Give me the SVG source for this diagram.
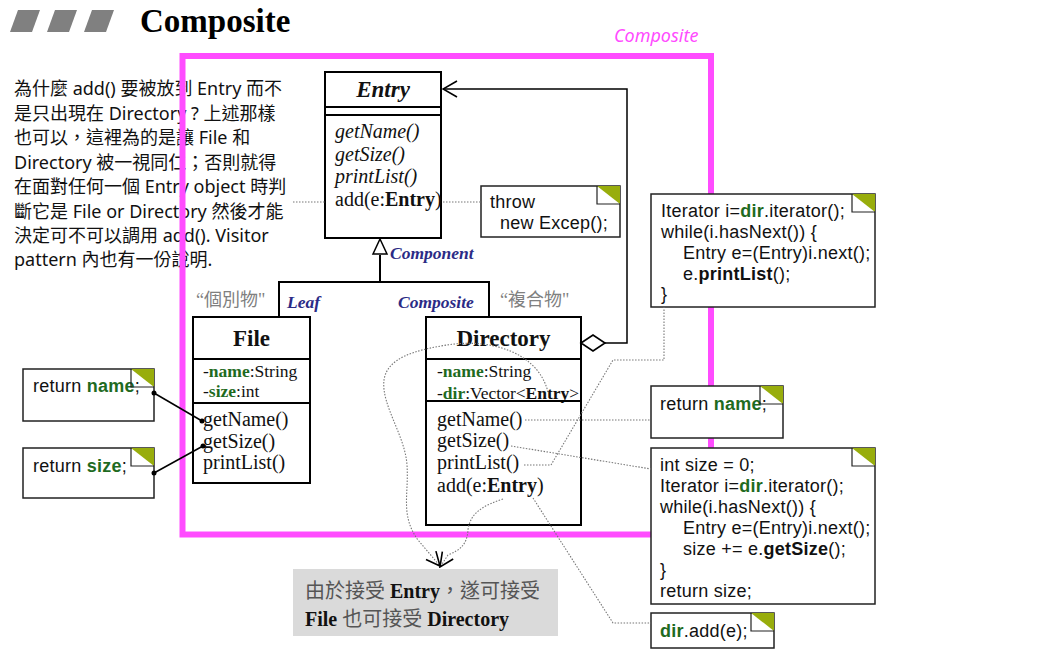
<svg xmlns="http://www.w3.org/2000/svg" xmlns:xlink="http://www.w3.org/1999/xlink" width="1047" height="653" viewBox="0 0 1047 653">
<style>
.box{fill:#fff;stroke:#000;stroke-width:2}
.ln{fill:none;stroke:#000;stroke-width:2}
.note{fill:#fff;stroke:#222;stroke-width:1.5}
.uml{font-family:"Liberation Serif","Noto Sans CJK TC",serif;font-size:20px;fill:#111}
.hd{font-family:"Liberation Serif",serif;font-size:23px;font-weight:bold;fill:#111}
.attr{font-family:"Liberation Serif",serif;font-size:17.5px;fill:#111}
.code{font-family:"Liberation Sans",Arial,sans-serif;font-size:18px;letter-spacing:0.25px;fill:#111}
.gr{fill:#1f6b1f;font-weight:bold}
.b{font-weight:bold}
.lab{font-family:"Liberation Serif",serif;font-size:17.5px;font-weight:bold;font-style:italic;fill:#2b2b86}
.cq{font-family:"Liberation Serif","Noto Sans CJK TC",serif;font-size:18px;fill:#808080}
.dot{fill:none;stroke:#777;stroke-width:1.1;stroke-dasharray:1.5 1.5}
.solid{fill:none;stroke:#000;stroke-width:1.5}
</style>
<defs>
<g id="fold">
<polygon points="-23,0 0,0 0,18" fill="#98ad0c"/>
<polyline points="-23,0 -23,18 0,18" fill="none" stroke="#222" stroke-width="1.2"/>
</g>
<marker id="open" viewBox="0 0 16 16" refX="15" refY="8" markerWidth="16" markerHeight="16" markerUnits="userSpaceOnUse" orient="auto">
<path d="M1,1.5 L15,8 L1,14.5" fill="none" stroke="#000" stroke-width="1.6"/>
</marker>
<marker id="bigopen" viewBox="0 0 16 18" refX="15" refY="9" markerWidth="16" markerHeight="18" markerUnits="userSpaceOnUse" orient="auto">
<path d="M1,1 L15,9 L1,17" fill="none" stroke="#000" stroke-width="1.6"/>
</marker>
</defs>
<rect width="1047" height="653" fill="#fff"/>

<g id="title">
<polygon points="18,10 40,10 32,32 10,32" fill="#808080"/>
<polygon points="55,10 77,10 69,32 47,32" fill="#808080"/>
<polygon points="92,10 114,10 106,32 84,32" fill="#808080"/>
<text x="140" y="32" font-family="Liberation Serif,serif" font-size="33" font-weight="bold" fill="#000">Composite</text>
</g>

<g id="explanation" font-family="Noto Sans, Noto Sans CJK TC, sans-serif" font-size="18" fill="#111">
<text x="14" y="95">為什麼 add() 要被放到 Entry 而不</text>
<text x="14" y="119.5">是只出現在 Directory ? 上述那樣</text>
<text x="14" y="144">也可以，這裡為的是讓 File 和</text>
<text x="14" y="168.5">Directory 被一視同仁；否則就得</text>
<text x="14" y="193">在面對任何一個 Entry object 時判</text>
<text x="14" y="217.5">斷它是 File or Directory 然後才能</text>
<text x="14" y="242">決定可不可以調用 add(). Visitor</text>
<text x="14" y="266">pattern 內也有一份說明.</text>
</g>

<g id="composite-frame">
<rect x="182.5" y="56" width="528.5" height="478.5" fill="none" stroke="#ff4cff" stroke-width="6"/>
<text x="614" y="42" font-family="Noto Sans, sans-serif" font-size="18" font-style="italic" fill="#ff4cff">Composite</text>
</g>

<g id="entry">
<rect class="box" x="325" y="72" width="116" height="166"/>
<line class="ln" x1="325" y1="107" x2="441" y2="107"/>
<line class="ln" x1="325" y1="115" x2="441" y2="115"/>
<text class="hd" x="383" y="97" text-anchor="middle" font-style="italic">Entry</text>
<text class="uml" x="335" y="138" font-style="italic">getName()</text>
<text class="uml" x="335" y="161" font-style="italic">getSize()</text>
<text class="uml" x="335" y="183" font-style="italic">printList()</text>
<text class="uml" x="335" y="206">add(e:<tspan class="b">Entry</tspan>)</text>
</g>

<g id="file">
<rect class="box" x="193" y="317" width="117" height="166"/>
<line class="ln" x1="193" y1="359" x2="310" y2="359"/>
<line class="ln" x1="193" y1="403" x2="310" y2="403"/>
<text class="hd" x="251.5" y="346" text-anchor="middle">File</text>
<text class="attr" x="203" y="377">-<tspan class="gr">name</tspan>:String</text>
<text class="attr" x="203" y="397">-<tspan class="gr">size</tspan>:int</text>
<text class="uml" x="203" y="426">getName()</text>
<text class="uml" x="203" y="448">getSize()</text>
<text class="uml" x="203" y="469">printList()</text>
</g>

<g id="directory">
<rect class="box" x="426" y="317" width="155" height="208"/>
<line class="ln" x1="426" y1="359" x2="581" y2="359"/>
<text class="attr" x="437" y="377">-<tspan class="gr">name</tspan>:String</text>
<text class="attr" x="437" y="399">-<tspan class="gr">dir</tspan>:Vector&lt;<tspan class="b">Entry</tspan>&gt;</text>
<line class="ln" x1="426" y1="401" x2="581" y2="401"/>
<text class="hd" x="503.5" y="346" text-anchor="middle">Directory</text>
<text class="uml" x="437" y="426">getName()</text>
<text class="uml" x="437" y="447">getSize()</text>
<text class="uml" x="437" y="469">printList()</text>
<text class="uml" x="437" y="492">add(e:<tspan class="b">Entry</tspan>)</text>
</g>

<g id="labels">
<text class="lab" x="390" y="259">Component</text>
<text class="lab" x="287" y="308">Leaf</text>
<text class="lab" x="398" y="308">Composite</text>
<text class="cq" x="196" y="306">“個別物"</text>
<text class="cq" x="500" y="306">“複合物"</text>
</g>

<g id="note-throw">
<rect class="note" x="481" y="186" width="139" height="51"/>
<text class="code" x="490" y="208">throw</text>
<text class="code" x="500" y="229">new Excep();</text>
<use xlink:href="#fold" x="620" y="186"/>
</g>

<g id="note-file-name">
<rect class="note" x="23" y="369" width="131" height="52"/>
<text class="code" x="33" y="392">return <tspan class="gr">name</tspan>;</text>
<use xlink:href="#fold" x="154" y="369"/>
</g>

<g id="note-file-size">
<rect class="note" x="23" y="448" width="131" height="50"/>
<text class="code" x="33" y="472">return <tspan class="gr">size</tspan>;</text>
<use xlink:href="#fold" x="154" y="448"/>
</g>

<g id="note-printlist">
<rect class="note" x="651" y="194" width="224" height="113"/>
<text class="code" x="661" y="217">Iterator i=<tspan class="gr">dir</tspan>.iterator();</text>
<text class="code" x="661" y="238">while(i.hasNext()) {</text>
<text class="code" x="683" y="259">Entry e=(Entry)i.next();</text>
<text class="code" x="683" y="280">e.<tspan class="b">printList</tspan>();</text>
<text class="code" x="661" y="300">}</text>
<use xlink:href="#fold" x="875" y="194"/>
</g>

<g id="note-dir-name">
<rect class="note" x="651" y="386" width="132" height="52"/>
<text class="code" x="660" y="410">return <tspan class="gr">name</tspan>;</text>
<use xlink:href="#fold" x="783" y="386"/>
</g>

<g id="note-getsize">
<rect class="note" x="651" y="448" width="224" height="156"/>
<text class="code" x="660" y="471">int size = 0;</text>
<text class="code" x="660" y="492">Iterator i=<tspan class="gr">dir</tspan>.iterator();</text>
<text class="code" x="660" y="513">while(i.hasNext()) {</text>
<text class="code" x="683" y="534">Entry e=(Entry)i.next();</text>
<text class="code" x="683" y="555">size += e.<tspan class="b">getSize</tspan>();</text>
<text class="code" x="660" y="576">}</text>
<text class="code" x="660" y="597">return size;</text>
<use xlink:href="#fold" x="875" y="448"/>
</g>

<g id="note-add">
<rect class="note" x="651" y="613" width="123" height="35"/>
<text class="code" x="660" y="637"><tspan class="gr">dir</tspan>.add(e);</text>
<use xlink:href="#fold" x="774" y="613"/>
</g>

<g id="callout">
<rect x="293" y="569" width="265" height="67" fill="#dadada"/>
<text x="305" y="598" font-family="Liberation Serif, Noto Sans CJK TC, serif" font-size="20" fill="#555">由於接受 <tspan font-weight="bold" fill="#111">Entry</tspan>，遂可接受</text>
<text x="305" y="626" font-family="Liberation Serif, Noto Sans CJK TC, serif" font-size="20" fill="#555"><tspan font-weight="bold" fill="#111">File</tspan> 也可接受 <tspan font-weight="bold" fill="#111">Directory</tspan></text>
</g>

<g id="connectors">
<polyline class="ln" points="380,255 380,282" stroke-width="1.6"/>
<polyline class="ln" points="279,317 279,282 489,282 489,317" stroke-width="1.6"/>
<polygon points="380,239 387,254 373,254" fill="#fff" stroke="#000" stroke-width="1.5"/>
<polygon points="581,343 593,335 605,343 593,351" fill="#fff" stroke="#000" stroke-width="1.6"/>
<polyline class="solid" points="605,343 627,343 627,89 443,89" marker-end="url(#bigopen)"/>
<line class="dot" x1="293" y1="202" x2="325" y2="202"/>
<line class="dot" x1="443" y1="202" x2="481" y2="202"/>
<line class="solid" x1="154" y1="393" x2="202" y2="421"/>
<circle cx="154" cy="393" r="2.5" fill="#000"/>
<circle cx="202" cy="421" r="2.5" fill="#000"/>
<line class="solid" x1="154" y1="473" x2="203" y2="446"/>
<circle cx="154" cy="473" r="2.5" fill="#000"/>
<circle cx="203" cy="446" r="2.5" fill="#000"/>
<line class="dot" x1="525" y1="420" x2="651" y2="420"/>
<line class="dot" x1="511" y1="446" x2="651" y2="469"/>
<polyline class="dot" points="524,465 551,465 613,360 664,360 664,307"/>
<polyline class="dot" points="533,498 613,623 651,623"/>
<path class="dot" d="M548,392 C538,352 490,338 447,345 C415,350 387,358 384,380 C381,405 405,435 407,465 C409,495 400,515 418,540 L440,566" marker-end="url(#open)"/>
<path class="dot" d="M503,499 C485,505 470,512 468,530 C467,545 460,550 448,555 L440,567" marker-end="url(#open)"/>
</g>
</svg>
